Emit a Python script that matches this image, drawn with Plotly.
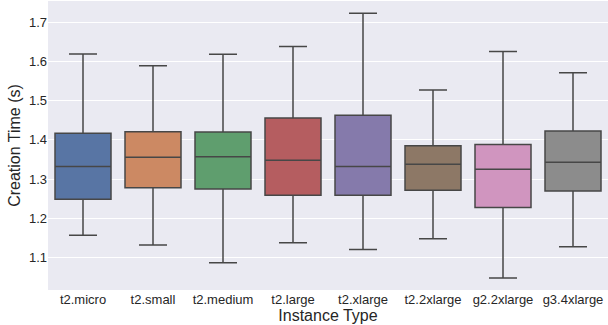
import plotly.graph_objects as go

categories = ["t2.micro", "t2.small", "t2.medium", "t2.large", "t2.xlarge",
              "t2.2xlarge", "g2.2xlarge", "g3.4xlarge"]
upper = [1.619, 1.589, 1.618, 1.638, 1.723, 1.527, 1.625, 1.571]
q3 = [1.417, 1.421, 1.420, 1.456, 1.463, 1.385, 1.388, 1.423]
median = [1.332, 1.356, 1.357, 1.348, 1.332, 1.338, 1.325, 1.343]
q1 = [1.249, 1.278, 1.275, 1.259, 1.259, 1.272, 1.228, 1.270]
lower = [1.157, 1.132, 1.087, 1.138, 1.121, 1.148, 1.048, 1.128]
colors = ["#5875A4", "#CC8963", "#5F9E6E", "#B55D60", "#857AAB",
          "#8D7866", "#D095BF", "#8C8C8C"]

fig = go.Figure()
for i, c in enumerate(categories):
    fig.add_trace(go.Box(
        x=[c], q1=[q1[i]], median=[median[i]], q3=[q3[i]],
        lowerfence=[lower[i]], upperfence=[upper[i]],
        fillcolor=colors[i], line=dict(color="#474747", width=1.5),
        whiskerwidth=0.5, width=0.8, boxpoints=False, showlegend=False,
        hoverinfo="skip",
    ))

font = "Liberation Sans, Arial, sans-serif"
fig.update_layout(
    width=608, height=325,
    margin=dict(l=48, r=0, t=1, b=35),
    plot_bgcolor="#EAEAF2", paper_bgcolor="white",
    font=dict(family=font, color="#262626", size=13),
    xaxis=dict(
        categoryorder="array", categoryarray=categories,
        range=[-0.5, 7.5], showgrid=False, zeroline=False,
        ticks="", tickfont=dict(size=13, color="#262626"),
        title=dict(text="Instance Type", font=dict(size=16), standoff=2),
    ),
    yaxis=dict(
        range=[1.0175, 1.754], tickvals=[1.1, 1.2, 1.3, 1.4, 1.5, 1.6, 1.7],
        ticktext=["1.1", "1.2", "1.3", "1.4", "1.5", "1.6", "1.7"],
        showgrid=True, gridcolor="white", gridwidth=1.2, zeroline=False,
        ticks="", tickfont=dict(size=13, color="#262626"),
        title=dict(text="Creation Time (s)", font=dict(size=16), standoff=4),
    ),
)
fig.write_html("out.html")
